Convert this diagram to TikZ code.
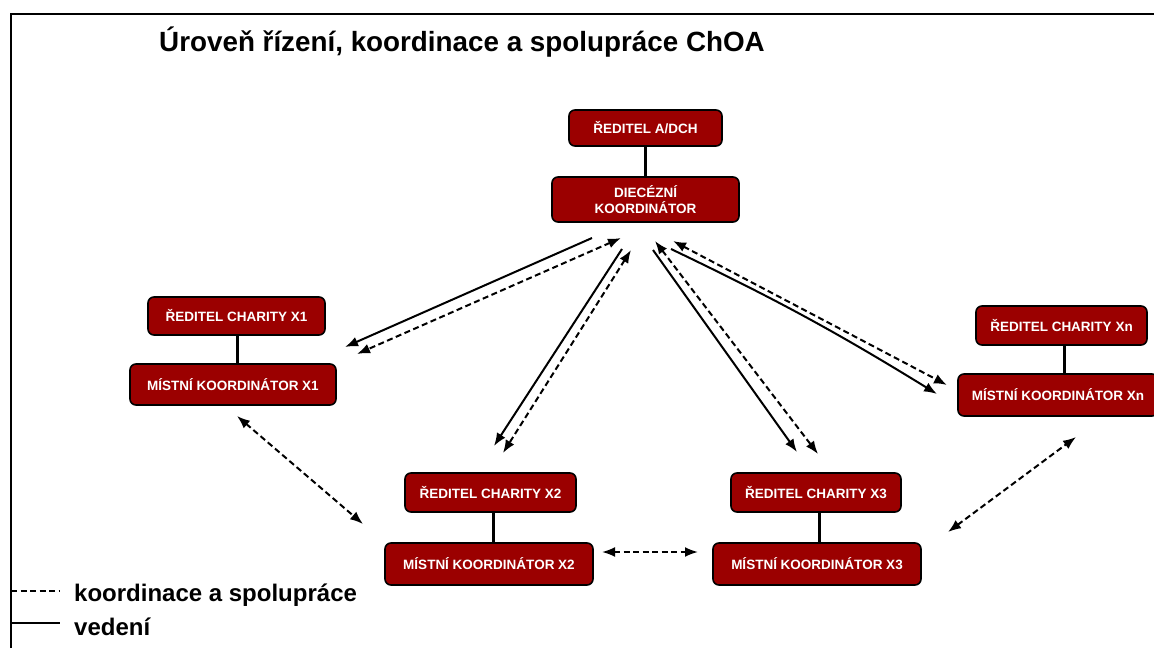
\documentclass[tikz,border=0pt]{standalone}
\usepackage{fontspec}
\setmainfont{Liberation Sans}
\usetikzlibrary{arrows.meta}
\definecolor{boxred}{RGB}{155,0,0}
\begin{document}
\begin{tikzpicture}[x=1pt,y=-1pt,
  box/.style={draw=black, line width=1.6pt, fill=boxred, rounded corners=6pt, text=white,
    font=\bfseries\fontsize{13.5}{16.5}\selectfont, align=center, inner sep=0pt},
  lead/.style={line width=2pt, -{Latex[length=13pt,width=10pt]}},
  coop/.style={line width=2pt, dash pattern=on 6pt off 3.5pt,
    {Latex[length=13pt,width=10pt]}-{Latex[length=13pt,width=10pt]}},
  link/.style={line width=3pt},
  frame/.style={line width=2pt},
  legtext/.style={anchor=west, font=\bfseries\fontsize{24}{28}\selectfont, inner sep=0pt}]
\useasboundingbox (0,0) rectangle (1154,648);
\draw[frame] (11,648) -- (11,14) -- (1154,14);
\node[font=\bfseries\fontsize{27.8}{32}\selectfont, inner sep=0pt] (title) at (462,42) {Úroveň řízení, koordinace a spolupráce ChOA};

% boxes
\node[box, minimum width=153pt, minimum height=36pt] (adch) at (645.5,128) {ŘEDITEL A/DCH};
\node[box, minimum width=187pt, minimum height=45pt] (dk) at (645.5,199.5) {DIECÉZNÍ\\KOORDINÁTOR};
\node[box, minimum width=177pt, minimum height=38pt] (r1) at (236.5,316) {ŘEDITEL CHARITY X1};
\node[box, minimum width=206pt, minimum height=41pt] (m1) at (233,384.5) {MÍSTNÍ KOORDINÁTOR X1};
\node[box, minimum width=171pt, minimum height=39pt] (rn) at (1061.5,325.5) {ŘEDITEL CHARITY Xn};
\node[box, minimum width=200pt, minimum height=42pt] (mn) at (1058,395) {MÍSTNÍ KOORDINÁTOR Xn};
\node[box, minimum width=171pt, minimum height=39pt] (r2) at (490.5,492.5) {ŘEDITEL CHARITY X2};
\node[box, minimum width=208pt, minimum height=42pt] (m2) at (489,564) {MÍSTNÍ KOORDINÁTOR X2};
\node[box, minimum width=170pt, minimum height=39pt] (r3) at (816,492.5) {ŘEDITEL CHARITY X3};
\node[box, minimum width=208pt, minimum height=42pt] (m3) at (817,564) {MÍSTNÍ KOORDINÁTOR X3};

% vertical links
\draw[link] (adch.south) -- (dk.north);
\draw[link] ([xshift=1pt]r1.south) -- ([xshift=1pt]r1.south |- m1.north);
\draw[link] ([xshift=3pt]rn.south) -- ([xshift=3pt]rn.south |- mn.north);
\draw[link] ([xshift=3pt]r2.south) -- ([xshift=3pt]r2.south |- m2.north);
\draw[link] ([xshift=3pt]r3.south) -- ([xshift=3pt]r3.south |- m3.north);

% arrow end points
\coordinate (s1a) at (592,238); \coordinate (s1b) at (345,347);
\coordinate (d1a) at (621,238); \coordinate (d1b) at (357,354);
\coordinate (s2a) at (622,249); \coordinate (s2b) at (494,446);
\coordinate (d2a) at (631,250); \coordinate (d2b) at (503,453);
\coordinate (s3a) at (653,250); \coordinate (s3b) at (797,452);
\coordinate (d3a) at (655,241); \coordinate (d3b) at (818,454);
\coordinate (sna) at (671,249); \coordinate (snb) at (937,394);
\coordinate (dna) at (673,241); \coordinate (dnb) at (947,385);
\coordinate (c12a) at (237,416); \coordinate (c12b) at (363,524);
\coordinate (c23a) at (602,552); \coordinate (c23b) at (698,552);
\coordinate (c3na) at (948,532); \coordinate (c3nb) at (1076,437);

\draw[lead] (s1a) -- (s1b);
\draw[coop] (d1a) -- (d1b);
\draw[lead] (s2a) -- (s2b);
\draw[coop] (d2a) -- (d2b);
\draw[lead] (s3a) -- (s3b);
\draw[coop] (d3a) -- (d3b);
\draw[lead] (sna) to[bend left=3] (snb);
\draw[coop] (dna) -- (dnb);
\draw[coop] (c12a) -- (c12b);
\draw[coop] (c23a) -- (c23b);
\draw[coop] (c3na) -- (c3nb);

% legend
\coordinate (la1) at (11,591); \coordinate (lb1) at (60,591);
\coordinate (la2) at (11,623); \coordinate (lb2) at (60,623);
\draw[line width=2pt, dash pattern=on 6pt off 3.5pt] (la1) -- (lb1);
\draw[line width=2pt] (la2) -- (lb2);
\node[legtext] (lt1) at (74,595) {koordinace a spolupráce};
\node[legtext] (lt2) at (74,627) {vedení};
\end{tikzpicture}
\end{document}
